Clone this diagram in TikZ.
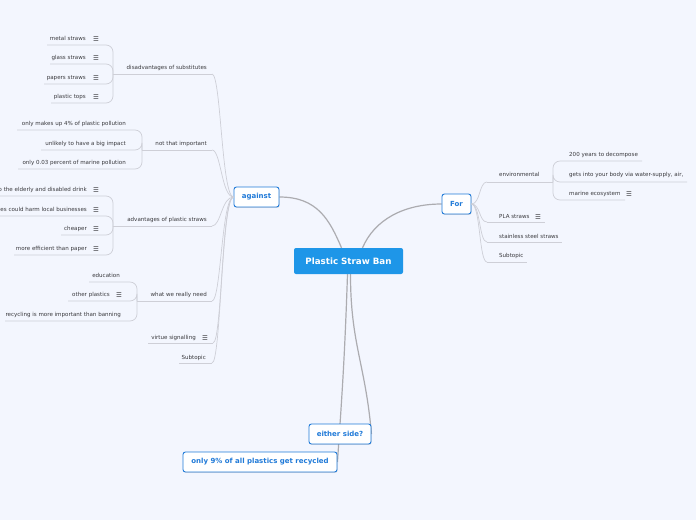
\documentclass[tikz,border=0pt]{standalone}
\usepackage{fontspec}
\setmainfont{DejaVu Sans}
\usetikzlibrary{shadows,backgrounds}
\definecolor{bg}{RGB}{243,246,254}
\definecolor{ln}{RGB}{206,207,215}
\definecolor{mainln}{RGB}{172,172,176}
\definecolor{txt}{RGB}{58,58,62}
\definecolor{blu}{RGB}{32,122,216}
\definecolor{cfill}{RGB}{30,150,232}
\begin{document}
\begin{tikzpicture}[x=1pt,y=-1pt,
 leaf/.style={font=\fontsize{5.55}{6.5}\selectfont, text=txt, inner sep=0pt, text height=4pt, text depth=1.2pt},
 ico/.style={font=\fontsize{6.5}{7}\selectfont, text=txt, inner sep=0pt},
 conn/.style={draw=ln, line width=0.7pt},
 brk/.style={conn, rounded corners=7pt},
 mainline/.style={draw=mainln, line width=1.2pt},
 topic/.style={draw=blu, line width=0.9pt, fill=white, rounded corners=2.5pt, text=blu,
   font=\bfseries\fontsize{7}{8}\selectfont, minimum height=20pt, inner sep=0pt,
   drop shadow={opacity=0.25, shadow xshift=0.6pt, shadow yshift=-0.9pt}},
 central/.style={fill=cfill, rounded corners=2pt, text=white, inner sep=0pt,
   font=\bfseries\fontsize{8.7}{10}\selectfont, minimum width=109pt, minimum height=26pt}
]
\begin{scope}[on background layer]
\fill[bg] (0,0) rectangle (696,520);
\end{scope}
\useasboundingbox (0,0) rectangle (696,520);

% main nodes
\node[central] (psb) at (348.5,261) {Plastic Straw Ban};
\node[topic, minimum width=45pt] (ag) at (256.5,197) {against};
\node[topic, minimum width=29pt] (for) at (456.5,204) {For};
\node[topic, minimum width=62pt] (es) at (340,434) {either side?};
\node[topic, minimum width=154pt] (o9) at (260,462) {only 9\% of all plastics get recycled};

% ---------- against branch ----------
\coordinate (j1) at (113,74);
\coordinate (j2) at (142,150);
\coordinate (j3) at (113,226);
\coordinate (j4) at (137,301);
\coordinate (dsu) at (212,74);
\coordinate (ntu) at (212,150);
\coordinate (apu) at (212,226);
\coordinate (wnu) at (212,301);
\coordinate (vsu) at (213,343);
\coordinate (vsl) at (148,343);
\coordinate (stu) at (212,363);
\coordinate (stl) at (179,363);

\node[leaf, anchor=east] (ds) at (207,68) {disadvantages of substitutes};
\node[leaf, anchor=east] (nt) at (207,144) {not that important};
\node[leaf, anchor=east] (ap) at (207,220) {advantages of plastic straws};
\node[leaf, anchor=east] (wn) at (207,295) {what we really need};
\node[leaf, anchor=east] (vs) at (196,338) {virtue signalling};
\node[ico] (vsi) at (205,338) {☰};
\node[leaf, anchor=east] (st) at (206,358) {Subtopic};

\draw[conn] (j1) -- (dsu);
\draw[conn] (j2) -- (ntu);
\draw[conn] (j3) -- (apu);
\draw[conn] (j4) -- (wnu);
\draw[conn] (vsl) -- (vsu);
\draw[conn] (stl) -- (stu);

\foreach \e in {dsu,ntu,apu,wnu,vsu,stu}
  \draw[conn] (ag.west) .. controls +(-12,0) and +(9,0) .. (\e);

% disadvantages children
\node[leaf, anchor=east] (m1) at (86,39) {metal straws};
\node[leaf, anchor=east] (m2) at (86,58) {glass straws};
\node[leaf, anchor=east] (m3) at (86,78) {papers straws};
\node[leaf, anchor=east] (m4) at (86,97) {plastic tops};
\node[ico] (m1i) at (96,39) {☰};
\node[ico] (m2i) at (96,58) {☰};
\node[ico] (m3i) at (96,78) {☰};
\node[ico] (m4i) at (96,97) {☰};
\coordinate (m1u) at (47,45);
\coordinate (m2u) at (50,64);
\coordinate (m3u) at (44,84);
\coordinate (m4u) at (51,103);
\foreach \e in {m1u,m2u,m3u,m4u} \draw[brk] (j1) |- (\e);

% not that important children
\node[leaf, anchor=east] (n1) at (126,124) {only makes up 4\% of plastic pollution};
\node[leaf, anchor=east] (n2) at (126,144) {unlikely to have a big impact};
\node[leaf, anchor=east] (n3) at (126,163) {only 0.03 percent of marine pollution};
\coordinate (n1u) at (17,130);
\coordinate (n2u) at (41,150);
\coordinate (n3u) at (18,169);
\foreach \e in {n1u,n2u,n3u} \draw[brk] (j2) |- (\e);

% advantages children
\node[leaf, anchor=east] (a1) at (87,190) {help the elderly and disabled drink};
\node[leaf, anchor=east] (a2) at (87,210) {alternatives could harm local businesses};
\node[leaf, anchor=east] (a3) at (87,229) {cheaper};
\node[leaf, anchor=east] (a4) at (87,249) {more efficient than paper};
\node[ico] (a1i) at (96,190) {☰};
\node[ico] (a2i) at (96,210) {☰};
\node[ico] (a3i) at (96,229) {☰};
\node[ico] (a4i) at (96,249) {☰};
\coordinate (a1u) at (-20,196);
\coordinate (a2u) at (-20,216);
\coordinate (a3u) at (61,235);
\coordinate (a4u) at (14,255);
\foreach \e in {a1u,a2u,a3u,a4u} \draw[brk] (j3) |- (\e);

% what we really need children
\node[leaf, anchor=east] (w1) at (120,276) {education};
\node[leaf, anchor=east] (w2) at (110,295) {other plastics};
\node[ico] (w2i) at (119,295) {☰};
\node[leaf, anchor=east] (w3) at (121,315) {recycling is more important than banning};
\coordinate (w1u) at (89,282);
\coordinate (w2u) at (68,301);
\coordinate (w3u) at (5,321);
\foreach \e in {w1u,w2u,w3u} \draw[brk] (j4) |- (\e);

% ---------- For branch ----------
\coordinate (j5) at (553,182);
\coordinate (env) at (487,182);
\coordinate (pla) at (487,222);
\coordinate (pler) at (545,222);
\coordinate (ssl) at (487,242);
\coordinate (ssr) at (562,242);
\coordinate (sbl) at (487,262);
\coordinate (sbr) at (527,262);

\node[leaf, anchor=west] (en) at (499,175) {environmental};
\node[leaf, anchor=west] (pl) at (499,217) {PLA straws};
\node[ico] (pli) at (538,217) {☰};
\node[leaf, anchor=west] (ss) at (499,237) {stainless steel straws};
\node[leaf, anchor=west] (sb) at (499,256) {Subtopic};

\draw[conn] (env) -- (j5);
\draw[conn] (pla) -- (pler);
\draw[conn] (ssl) -- (ssr);
\draw[conn] (sbl) -- (sbr);
\foreach \e in {env,pla,ssl,sbl}
  \draw[conn] (for.east) .. controls +(9,0) and +(-8,0) .. (\e);

\node[leaf, anchor=west] (e1) at (569,155) {200 years to decompose};
\node[leaf, anchor=west] (e2) at (569,175) {gets into your body via water-supply, air,};
\node[leaf, anchor=west] (e3) at (569,194) {marine ecosystem};
\node[ico] (e3i) at (629,194) {☰};
\coordinate (e1u) at (642,161);
\coordinate (e2u) at (687,182);
\coordinate (e3u) at (625,200);
\foreach \e in {e1u,e2u,e3u} \draw[brk] (j5) |- (\e);

% ---------- main connectors (behind the topic boxes) ----------
\begin{scope}[on background layer]
\draw[mainline] (ag.east) .. controls +(38,0) and +(-12,-28) .. ([xshift=-7pt]psb.north);
\draw[mainline] (for.west) .. controls +(-38,0) and +(12,-28) .. ([xshift=14pt]psb.north);
\draw[mainline] ([xshift=2pt]psb.south) .. controls +(0,70) and +(-6,-70) .. (es.east);
\draw[mainline] ([xshift=-1pt]psb.south) .. controls +(-3,90) and +(4,-60) .. (o9.east);
\end{scope}
\end{tikzpicture}
\end{document}
